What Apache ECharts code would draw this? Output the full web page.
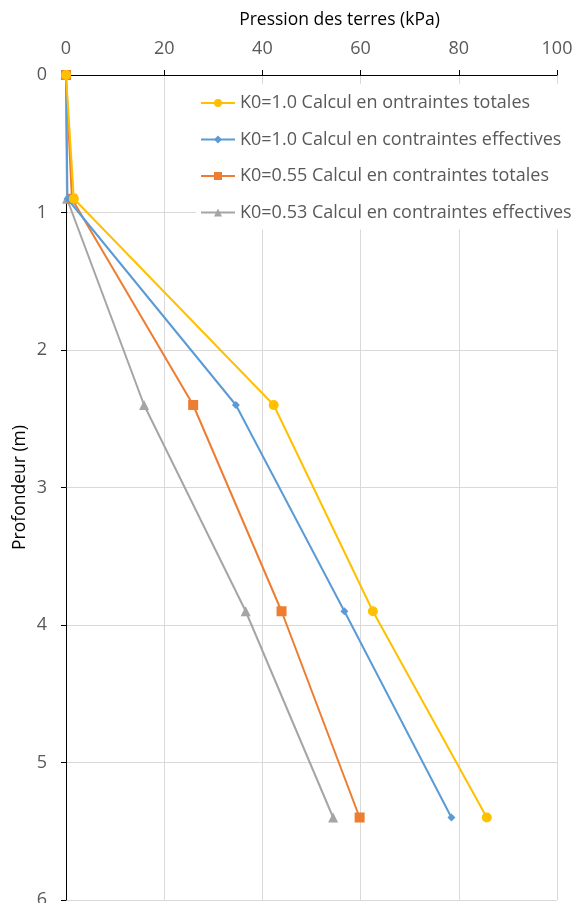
<!DOCTYPE html>
<html><head><meta charset="utf-8">
<script src="https://cdn.jsdelivr.net/npm/echarts@6/dist/echarts.min.js"></script>
<style>html,body{margin:0;padding:0;background:#fff}#c{width:574px;height:903px}</style>
</head><body><div id="c"></div>
<script>
const depths = [0, 0.9, 2.4, 3.9, 5.4];
const k10Totales = [0, 1.6, 42.3, 62.5, 85.7];
const k10Effectives = [0, 0.3, 34.6, 56.7, 78.5];
const k055Totales = [0, 1.2, 25.9, 43.9, 59.8];
const k053Effectives = [0, 0.2, 15.9, 36.6, 54.4];
const seriesNames = [
  "K0=1.0 Calcul en ontraintes totales",
  "K0=1.0 Calcul en contraintes effectives",
  "K0=0.55 Calcul en contraintes totales",
  "K0=0.53 Calcul en contraintes effectives"
];
const xTicks = [0, 20, 40, 60, 80, 100];
const yTicks = [0, 1, 2, 3, 4, 5, 6];

const colors = ['#FFC000', '#5B9BD5', '#ED7D31', '#A5A5A5'];
const symbols = ['circle', 'diamond', 'rect', 'triangle'];
const sizes = [10, 8, 10, 10];
const vals = [k10Totales, k10Effectives, k055Totales, k053Effectives];
const font = '"Open Sans", sans-serif';

const chart = echarts.init(document.getElementById('c'), null, {renderer: 'canvas'});
chart.setOption({
  animation: false,
  backgroundColor: '#fff',
  grid: {left: 66, right: 17, top: 75, bottom: 3, containLabel: false, outerBoundsMode: 'none'},
  xAxis: {
    type: 'value', position: 'top', min: xTicks[0], max: xTicks[xTicks.length-1], interval: 20,
    name: 'Pression des terres (kPa)', nameLocation: 'middle', nameGap: 46, nameMoveOverlap: false,
    nameTextStyle: {color: '#000', fontSize: 17.5, fontFamily: font, padding: [0, 0, 0, 56]},
    axisLine: {show: true, onZero: false, lineStyle: {color: '#000', width: 1}},
    axisTick: {show: true, inside: false, length: 5, lineStyle: {color: '#000'}},
    axisLabel: {color: '#595959', fontSize: 18, fontFamily: font, margin: 17},
    splitLine: {show: true, lineStyle: {color: '#d9d9d9', width: 1}}
  },
  yAxis: {
    type: 'value', inverse: true, min: yTicks[0], max: yTicks[yTicks.length-1], interval: 1,
    name: 'Profondeur (m)', nameLocation: 'middle', nameGap: 37, nameRotate: 90, nameMoveOverlap: false,
    nameTextStyle: {color: '#000', fontSize: 17.5, fontFamily: font},
    axisLine: {show: true, onZero: false, lineStyle: {color: '#000', width: 1}},
    axisTick: {show: true, inside: false, length: 5, lineStyle: {color: '#000'}},
    axisLabel: {color: '#595959', fontSize: 18, fontFamily: font, margin: 19},
    splitLine: {show: true, lineStyle: {color: '#d9d9d9', width: 1}}
  },
  legend: {
    orient: 'vertical', left: 196, top: 84,
    backgroundColor: '#fff', padding: [10, 4, 8, 4],
    itemWidth: 34, itemHeight: 10, itemGap: 18.5,
    textStyle: {color: '#595959', fontSize: 18, lineHeight: 16, fontFamily: font},
    data: seriesNames
  },
  series: seriesNames.map((n, i) => ({
    name: n, type: 'line',
    data: depths.map((d, j) => [vals[i][j], d]),
    symbol: symbols[i], symbolSize: sizes[i],
    lineStyle: {color: colors[i], width: 2},
    itemStyle: {color: colors[i]},
    z: 10 - i
  }))
});
</script></body></html>
